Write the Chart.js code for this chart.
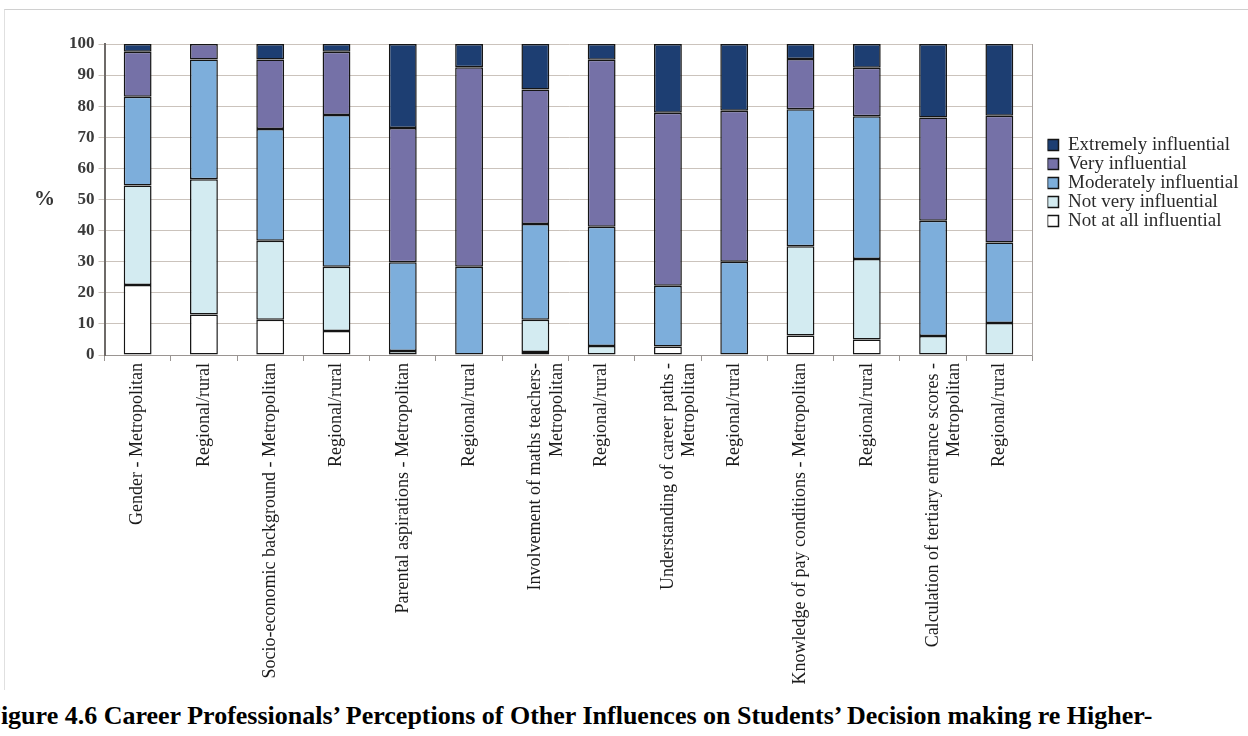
<!DOCTYPE html>
<html>
<head>
<meta charset="utf-8">
<script src="https://cdn.jsdelivr.net/npm/chart.js@4.4.1/dist/chart.umd.min.js"></script>
<style>
  html, body { margin: 0; padding: 0; background: #fff; }
  body { width: 1248px; height: 736px; position: relative; overflow: hidden; }
  #frame { position: absolute; left: 4px; top: 9px; width: 1250px; height: 680px;
           border-top: 1px solid #d0d0d0; border-left: 1px solid #e0e0e0; }
  #wrap { position: absolute; left: 0; top: 0; width: 1248px; height: 692px; }
  #pct { position: absolute; left: 34px; top: 186px; font: bold 21px "Liberation Serif", serif; color: #333; }
  #caption { position: absolute; left: -15px; top: 701px; white-space: nowrap;
             font: bold 26px "Liberation Serif", serif; color: #000; }
</style>
</head>
<body>
<div id="frame"></div>
<div id="wrap"><canvas id="chart"></canvas></div>
<div id="pct">%</div>
<div id="caption">Figure 4.6 Career Professionals’ Perceptions of Other Influences on Students’ Decision making re Higher-</div>
<script>
// categories (bottom axis)
const categories = [
  'Gender - Metropolitan',
  'Regional/rural',
  'Socio-economic background - Metropolitan',
  'Regional/rural',
  'Parental aspirations - Metropolitan',
  'Regional/rural',
  ['Involvement of maths teachers-', 'Metropolitan'],
  'Regional/rural',
  ['Understanding of career paths -', 'Metropolitan'],
  'Regional/rural',
  'Knowledge of pay conditions - Metropolitan',
  'Regional/rural',
  ['Calculation of tertiary entrance scores -', 'Metropolitan'],
  'Regional/rural'
];

// % of respondents, stacked bottom to top
const notAtAll   = [22.5, 13, 11.3, 7.7, 0, 0, 1, 0, 2.7, 0, 6.3, 5, 0, 0];
const notVery    = [32, 43.5, 25.4, 20.7, 1.3, 0, 10.3, 2.9, 0, 0, 28.7, 25.9, 6.1, 10.3];
const moderately = [28.5, 38.5, 36, 48.8, 28.5, 28.4, 30.8, 38.3, 19.6, 30, 44, 45.9, 37.1, 25.9];
const very       = [14.5, 5, 22.3, 20.3, 43.2, 64.1, 43.3, 53.7, 55.6, 48.5, 16.2, 15.6, 33.2, 40.7];
const extremely  = [2.5, 0, 5, 2.5, 27, 7.5, 14.6, 5.1, 22.1, 21.5, 4.8, 7.6, 23.6, 23.1];

const yTicks = [0, 10, 20, 30, 40, 50, 60, 70, 80, 90, 100];

const serif = '"Liberation Serif", "Times New Roman", serif';

function series(label, data, color) {
  return {
    label: label,
    // empty segments are not drawn at all
    data: data.map(v => (v === 0 ? null : v)),
    backgroundColor: color,
    borderColor: '#151515',
    borderWidth: 1.5,
    borderSkipped: false,
    barPercentage: 0.42,
    categoryPercentage: 1
  };
}

const ctx = document.getElementById('chart').getContext('2d');
new Chart(ctx, {
  type: 'bar',
  data: {
    labels: categories,
    datasets: [
      series('Not at all influential', notAtAll, '#ffffff'),
      series('Not very influential', notVery, '#d3ebf1'),
      series('Moderately influential', moderately, '#7daedb'),
      series('Very influential', very, '#7571a7'),
      series('Extremely influential', extremely, '#1d3e72')
    ]
  },
  options: {
    responsive: true,
    maintainAspectRatio: false,
    animation: false,
    layout: { padding: { left: 65, top: 44, right: 4, bottom: 0 } },
    plugins: {
      tooltip: { enabled: false },
      legend: {
        position: 'right',
        align: 'start',
        fullSize: false,
        reverse: true,
        title: { display: true, text: ' ', padding: { top: 77, bottom: 0 }, font: { size: 12 } },
        labels: {
          boxWidth: 11,
          boxHeight: 11,
          padding: 0,
          color: '#2a2a2a',
          font: { family: serif, size: 19 }
        }
      }
    },
    scales: {
      x: {
        stacked: true,
        afterFit(scale) { scale.height = 337; },
        grid: { display: true, offset: true, drawOnChartArea: false, tickLength: 6, color: '#9a9592' },
        border: { display: true, color: '#9a9592', width: 1 },
        ticks: {
          autoSkip: false,
          maxRotation: 90,
          minRotation: 90,
          padding: 2,
          color: '#1a1a1a',
          font: { family: serif, size: 18 }
        }
      },
      y: {
        stacked: true,
        min: 0,
        max: 100,
        afterBuildTicks(scale) { scale.ticks = yTicks.map(v => ({ value: v })); },
        grid: { color: '#cbc3bc', lineWidth: 1, tickLength: 6 },
        border: { display: true, color: '#6e6a68', width: 2 },
        ticks: {
          padding: 4,
          color: '#3a3a3a',
          font: { family: serif, size: 17, weight: 'bold' }
        }
      },
      // right-hand frame of the plot, also keeps the legend clear of it
      yRight: {
        position: 'right',
        afterFit(scale) { scale.width = 15; },
        grid: { drawOnChartArea: false, drawTicks: false },
        border: { display: true, color: '#a9a3a0', width: 1 },
        ticks: { display: false }
      }
    }
  }
});
</script>
</body>
</html>
